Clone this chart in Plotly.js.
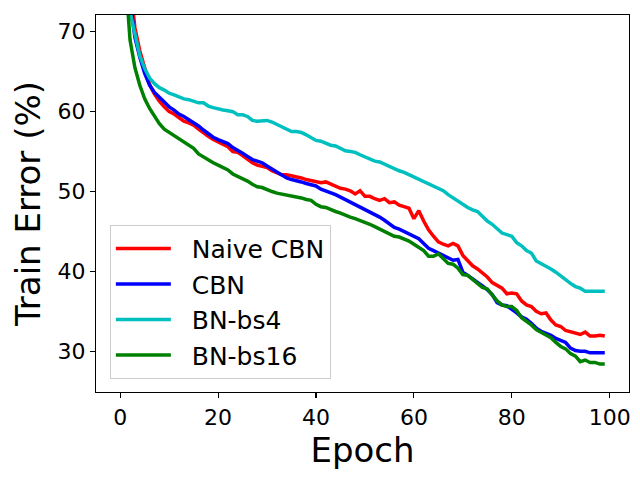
<!DOCTYPE html>
<html>
<head>
<meta charset="utf-8">
<script src="https://cdn.plot.ly/plotly-3.0.1.min.js"></script>
<style>html,body{margin:0;padding:0;background:#fff;}#chart{width:640px;height:480px;}</style>
</head>
<body>
<div id="chart"></div>
<script>
const epochs = [];
for (let i = 0; i < 100; i++) epochs.push(i);

const naiveCBN = [92,82,76,70.5,67.6,65.3,63.4,62.2,61.3,60.6,
60.0,59.7,59.3,58.8,58.6,58.3,57.8,57.3,56.9,56.5,
56.2,55.9,55.6,55.0,54.9,54.5,54.0,53.6,53.3,53.1,
53.0,52.6,52.3,52.1,52.1,52.0,51.9,51.7,51.5,51.4,
51.2,51.1,51.2,50.9,50.6,50.4,50.3,50.1,49.7,50.1,
49.4,49.4,49.1,48.9,49.1,48.6,48.7,48.3,48.1,47.9,
46.6,47.6,46.3,45.2,44.4,43.7,43.4,43.2,43.5,43.2,
42.0,41.3,40.7,40.3,39.8,39.3,38.6,38.2,37.9,37.2,
37.3,37.2,36.3,35.8,35.6,35.0,34.7,34.8,33.9,33.3,
33.1,32.6,32.4,32.2,32.1,32.4,31.9,31.9,32.0,31.9];

const cbn = [88,80,74,69.3,66.8,64.8,63.3,62.4,61.8,61.2,
60.6,60.2,59.7,59.4,59.0,58.7,58.2,57.7,57.2,56.8,
56.5,56.2,56.0,55.5,55.2,54.8,54.4,54.0,53.8,53.6,
53.2,52.8,52.4,52.0,51.7,51.5,51.4,51.2,51.0,50.9,
50.7,50.3,50.1,49.9,49.6,49.3,49.0,48.7,48.4,48.1,
47.8,47.5,47.1,46.8,46.4,45.9,45.5,45.3,45.0,44.8,
44.5,44.1,43.5,42.9,42.6,42.3,42.0,41.7,41.4,41.5,
39.9,39.5,39.1,38.6,38.2,37.7,37.1,36.1,35.8,35.7,
35.3,34.8,34.3,34.0,33.5,32.9,32.5,32.3,32.0,31.6,
31.4,31.1,30.4,30.1,30.0,30.0,29.8,29.8,29.9,29.8];

const bnBs4 = [86,78,72.5,69.5,67.0,65.4,64.2,63.5,63.0,62.7,
62.3,62.1,61.8,61.6,61.5,61.3,61.1,61.1,60.7,60.5,
60.3,60.2,60.1,60.0,59.6,59.6,59.4,58.9,58.8,58.8,
58.9,58.7,58.4,58.1,57.8,57.5,57.5,57.4,57.1,56.8,
56.4,56.3,56.0,55.8,55.7,55.4,55.1,55.0,54.9,54.6,
54.3,54.1,53.8,53.7,53.4,53.2,52.8,52.6,52.4,52.1,
51.9,51.6,51.3,50.9,50.6,50.4,50.1,49.6,49.2,48.8,
48.3,48.0,47.7,47.5,46.9,46.3,45.9,45.4,44.8,44.6,
44.4,43.6,43.2,42.6,42.3,41.3,41.0,40.7,40.3,39.9,
39.4,38.9,38.5,38.1,37.9,37.5,37.5,37.5,37.5,37.5];

const bnBs16 = [84,77.5,69,65.5,63.3,61.6,60.4,59.5,58.5,57.8,
57.4,57.0,56.6,56.1,55.8,55.4,54.7,54.3,54.0,53.6,
53.3,53.0,52.7,52.2,51.9,51.7,51.3,50.9,50.6,50.5,
50.2,50.0,49.8,49.7,49.5,49.5,49.3,49.2,49.0,48.9,
48.4,48.1,48.0,47.7,47.5,47.3,47.0,46.8,46.6,46.4,
46.1,45.9,45.6,45.3,44.9,44.6,44.4,44.3,44.1,43.8,
43.4,43.0,42.6,41.9,41.9,42.2,41.6,41.0,40.9,40.4,
39.6,39.5,39.0,38.5,38.0,37.8,37.0,36.3,35.8,35.6,
35.6,35.1,34.2,33.8,33.3,32.7,32.4,32.1,31.7,31.1,
30.6,30.3,29.7,29.4,28.7,28.9,28.6,28.6,28.4,28.4];

const seriesNames = ["Naive CBN", "CBN", "BN-bs4", "BN-bs16"];
const seriesColors = ["#ff0000", "#0000ff", "#00bfbf", "#008000"];
const seriesData = [naiveCBN, cbn, bnBs4, bnBs16];

const xTicks = [0, 20, 40, 60, 80, 100];
const yTicks = [30, 40, 50, 60, 70];

const traces = seriesData.map((ys, i) => ({
  x: epochs, y: ys, type: "scatter", mode: "lines",
  name: "\u00a0\u00a0" + seriesNames[i],
  line: {color: seriesColors[i], width: 3.5}
}));

const font = "DejaVu Sans, sans-serif";
const axisCommon = {
  showgrid: false, zeroline: false, showline: true, mirror: true,
  linecolor: "#000", linewidth: 1.2, ticks: "outside", ticklen: 5, tickwidth: 1.2,
  tickcolor: "#000", tickfont: {family: font, size: 22, color: "#000"}
};

const layout = {
  width: 640, height: 480,
  margin: {l: 96, r: 11, t: 15, b: 88},
  paper_bgcolor: "#fff", plot_bgcolor: "#fff",
  font: {family: font, color: "#000"},
  xaxis: Object.assign({}, axisCommon, {
    range: [-4.95, 103.95], tickvals: xTicks, ticktext: xTicks.map(String),
    title: {text: "Epoch", font: {family: font, size: 34}, standoff: 4}
  }),
  yaxis: Object.assign({}, axisCommon, {
    range: [24.9, 72.1], tickvals: yTicks, ticktext: yTicks.map(String),
    title: {text: "Train Error (%)", font: {family: font, size: 34}, standoff: 6}
  }),
  showlegend: true,
  legend: {
    x: 0.026, y: 0.035, xanchor: "left", yanchor: "bottom",
    bgcolor: "rgba(255,255,255,0.8)", bordercolor: "#cccccc", borderwidth: 1,
    font: {family: font, size: 25, color: "#000"}, itemwidth: 55,
    tracegroupgap: 0
  }
};

Plotly.newPlot("chart", traces, layout, {displayModeBar: false, staticPlot: true});
</script>
</body>
</html>
